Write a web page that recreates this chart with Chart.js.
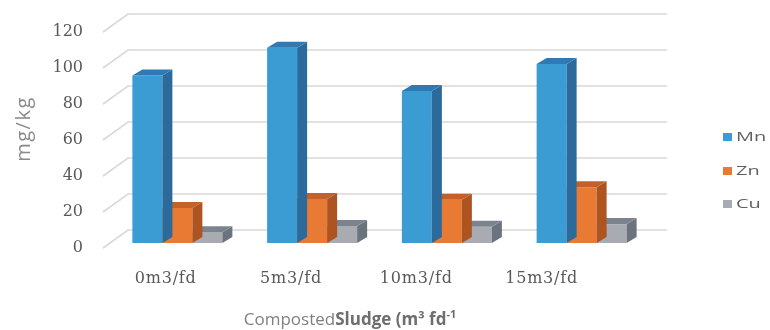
<!DOCTYPE html>
<html>
<head>
<meta charset="utf-8">
<script src="https://cdn.jsdelivr.net/npm/chart.js@4.4.1/dist/chart.umd.min.js"></script>
<style>
  html, body { margin: 0; padding: 0; background: #ffffff; }
  #wrap { width: 770px; height: 330px; position: relative; }
</style>
</head>
<body>
<div id="wrap"><canvas id="c" width="770" height="330"></canvas></div>
<script>
// Sludge doses and metal contents (mg/kg)
const categories = ['0m3/fd', '5m3/fd', '10m3/fd', '15m3/fd'];
const mnValues = [93, 108.5, 84.5, 99.5];
const znValues = [19.5, 24.5, 24, 31];
const cuValues = [6, 9.5, 9, 10.5];
const yTicks = [0, 20, 40, 60, 80, 100, 120];

// face colours: front, right side, top
const palette = {
  Mn: ['#3b9cd3', '#2c6a9b', '#3079b2'],
  Zn: ['#e97a33', '#ad5420', '#c4612a'],
  Cu: ['#a8abb1', '#6b747e', '#7b848e']
};

// depth of each prism and offsets of the back wall / front floor edge
const BAR_DX = 10, BAR_DY = 6;
const WALL_DX = 18, WALL_DY = 13;
const FLOOR_DX = 7, FLOOR_DY = 5;

const gray = '#595959';

const threeD = {
  id: 'threeD',
  beforeDatasetsDraw(chart) {
    const { ctx, chartArea: a, scales: { y } } = chart;
    ctx.save();
    ctx.strokeStyle = '#d9d9d9';
    ctx.lineWidth = 1.6;
    yTicks.forEach(v => {
      const py = y.getPixelForValue(v);
      ctx.beginPath();
      ctx.moveTo(a.left - FLOOR_DX, py + FLOOR_DY);
      ctx.lineTo(a.left + WALL_DX, py - WALL_DY);
      ctx.lineTo(a.right + WALL_DX, py - WALL_DY);
      ctx.stroke();
    });
    ctx.restore();
  },
  afterDatasetDraw(chart, args) {
    const { ctx } = chart;
    const ds = chart.data.datasets[args.index];
    const [, side, top] = palette[ds.label];
    ctx.save();
    args.meta.data.forEach(bar => {
      const { x, y, base, width } = bar.getProps(['x', 'y', 'base', 'width'], true);
      const l = x - width / 2, r = x + width / 2;
      ctx.fillStyle = side;
      ctx.beginPath();
      ctx.moveTo(r, y);
      ctx.lineTo(r + BAR_DX, y - BAR_DY);
      ctx.lineTo(r + BAR_DX, base - BAR_DY);
      ctx.lineTo(r, base);
      ctx.closePath();
      ctx.fill();
      ctx.fillStyle = top;
      ctx.beginPath();
      ctx.moveTo(l, y);
      ctx.lineTo(l + BAR_DX, y - BAR_DY);
      ctx.lineTo(r + BAR_DX, y - BAR_DY);
      ctx.lineTo(r, y);
      ctx.closePath();
      ctx.fill();
    });
    ctx.restore();
  },
  afterDraw(chart) {
    const { ctx, chartArea: a, scales: { x } } = chart;
    ctx.save();
    // category labels along the front floor edge
    ctx.font = '16px "DejaVu Serif"';
    ctx.letterSpacing = '0.8px';
    ctx.fillStyle = gray;
    ctx.textAlign = 'center';
    ctx.textBaseline = 'middle';
    categories.forEach((c, i) => {
      const px = x.getPixelForValue(i);
      const lx = a.left - FLOOR_DX + (px - a.left) * 0.93;
      ctx.fillText(c, lx, 279);
    });
    ctx.letterSpacing = '0px';

    // y axis title
    ctx.save();
    ctx.translate(24, 129);
    ctx.rotate(-Math.PI / 2);
    ctx.font = '20px "Open Sans"';
    ctx.letterSpacing = '1.5px';
    ctx.fillStyle = '#8a8a8a';
    ctx.fillText('mg/kg', 0, 0);
    ctx.restore();

    // x axis title, partly bold
    const t1 = 'Composted', t2 = 'Sludge (m³ fd', t3 = '-1';
    const f1 = '17px "Open Sans"', f2 = 'bold 17px "Open Sans"', f3 = 'bold 11px "Open Sans"';
    ctx.textAlign = 'left';
    ctx.textBaseline = 'alphabetic';
    ctx.font = f1; const w1 = ctx.measureText(t1).width;
    ctx.font = f2; const w2 = ctx.measureText(t2).width;
    ctx.font = f3; const w3 = ctx.measureText(t3).width;
    let tx = 350 - (w1 + w2 + w3) / 2;
    const ty = 325;
    ctx.fillStyle = '#7f7f7f';
    ctx.font = f1; ctx.fillText(t1, tx, ty); tx += w1;
    ctx.fillStyle = '#6e6e6e';
    ctx.font = f2; ctx.fillText(t2, tx, ty); tx += w2;
    ctx.font = f3; ctx.fillText(t3, tx, ty - 7);

    // legend
    ctx.font = '12.5px "Open Sans"';
    ctx.textBaseline = 'middle';
    const ly = [137, 171, 204];
    chart.data.datasets.forEach((ds, i) => {
      ctx.fillStyle = palette[ds.label][0];
      ctx.fillRect(723, ly[i] - 4, 9, 8);
      ctx.fillStyle = '#5f5f5f';
      ctx.save();
      ctx.translate(736, ly[i] + 0.5);
      ctx.scale(1.6, 1);
      ctx.fillText(ds.label, 0, 0);
      ctx.restore();
    });
    ctx.restore();
  }
};

const mkSet = (label, data) => ({
  label, data,
  backgroundColor: palette[label][0],
  borderWidth: 0,
  barPercentage: 1,
  categoryPercentage: 0.668
});

new Chart(document.getElementById('c'), {
  type: 'bar',
  data: {
    labels: categories,
    datasets: [mkSet('Mn', mnValues), mkSet('Zn', znValues), mkSet('Cu', cuValues)]
  },
  plugins: [threeD],
  options: {
    responsive: false,
    animation: false,
    layout: { padding: { left: 0, top: 27, right: 121, bottom: 87 } },
    plugins: { legend: { display: false }, tooltip: { enabled: false } },
    scales: {
      x: {
        display: false
      },
      y: {
        min: 0, max: 120,
        afterFit(s) {
          s.width = 110;
          s.paddingTop = 0;
          s.paddingBottom = 0;
        },
        afterBuildTicks(s) { s.ticks = yTicks.map(v => ({ value: v })); },
        grid: { display: false, drawTicks: false },
        border: { display: false },
        ticks: {
          padding: 27,
          labelOffset: 5,
          color: gray,
          font: { family: 'DejaVu Serif', size: 16 }
        }
      }
    }
  }
});
</script>
</body>
</html>
